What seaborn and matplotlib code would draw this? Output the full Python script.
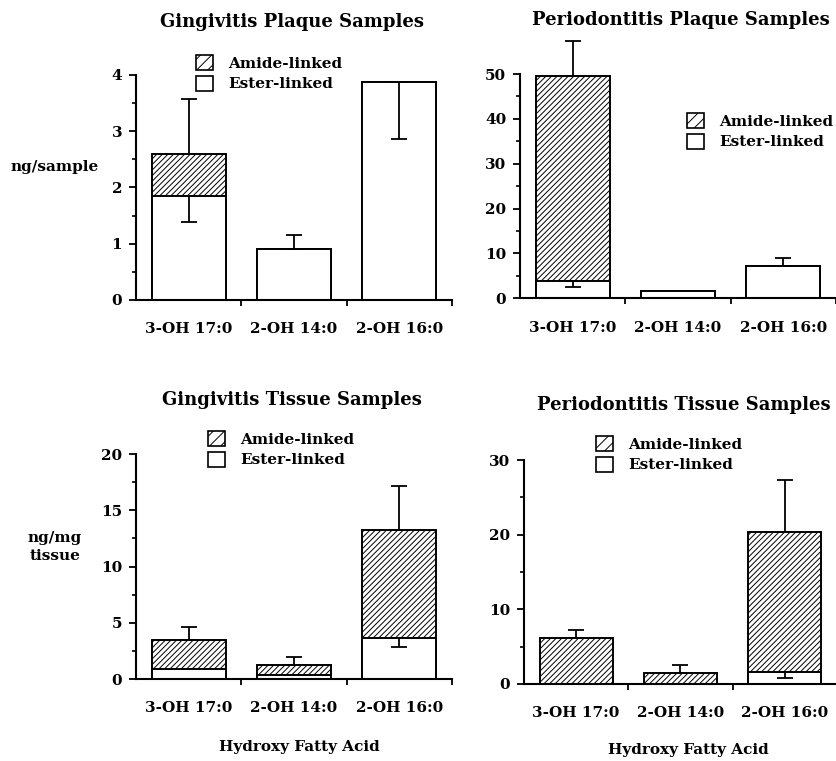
import pandas as pd
import matplotlib
matplotlib.use("Agg")
import matplotlib.pyplot as plt
import seaborn as sns
from matplotlib.patches import Patch
from matplotlib.ticker import MultipleLocator

sns.set_style("ticks")
plt.rcParams['font.family'] = ['DejaVu Serif']
plt.rcParams['font.weight'] = 'bold'
plt.rcParams['hatch.linewidth'] = 0.7
for k in ['text.color', 'axes.labelcolor', 'xtick.color', 'ytick.color', 'axes.edgecolor']:
    plt.rcParams[k] = 'black'

# Datos
acidos = ['3-OH 17:0', '2-OH 14:0', '2-OH 16:0']

# Gingivitis placa (ng/sample)
gp_ester = [1.84, 0.90, 3.87]
gp_amida = [0.76, 0.0, 0.0]
gp_err_sup = [0.97, 0.25, 0.0]
gp_err_inf = [0.46, 0.0, 1.0]

# Periodontitis placa
pp_ester = [3.9, 1.6, 7.2]
pp_amida = [45.7, 0.0, 0.0]
pp_err_sup = [7.8, 0.0, 1.7]
pp_err_inf = [1.3, 0.0, 0.0]

# Gingivitis tejido (ng/mg tissue)
gt_ester = [0.89, 0.41, 3.66]
gt_amida = [2.60, 0.83, 9.59]
gt_err_sup = [1.18, 0.71, 3.9]
gt_err_inf = [0.0, 0.0, 0.76]

# Periodontitis tejido
pt_ester = [0.0, 0.0, 1.65]
pt_amida = [6.1, 1.43, 18.75]
pt_err_sup = [1.1, 1.11, 6.9]
pt_err_inf = [0.0, 0.0, 0.8]

fig = plt.figure(figsize=(8.37, 7.61), dpi=100)
W, H = 837, 761

paneles = [
    dict(rect=[0.1625, 0.6058, 0.3775, 0.2957], titulo='Gingivitis Plaque Samples', tpos=(292, 22),
         ester=gp_ester, amida=gp_amida, sup=gp_err_sup, inf=gp_err_inf,
         ymax=4, major=1, minor=0.5, leg=(196, 55)),
    dict(rect=[0.6213, 0.6080, 0.3775, 0.2947], titulo='Periodontitis Plaque Samples', tpos=(681, 20),
         ester=pp_ester, amida=pp_amida, sup=pp_err_sup, inf=pp_err_inf,
         ymax=50, major=10, minor=5, leg=(687, 113)),
    dict(rect=[0.1625, 0.1074, 0.3775, 0.2960], titulo='Gingivitis Tissue Samples', tpos=(292, 400),
         ester=gt_ester, amida=gt_amida, sup=gt_err_sup, inf=gt_err_inf,
         ymax=20, major=5, minor=2.5, leg=(208, 431)),
    dict(rect=[0.6260, 0.1012, 0.3740, 0.2943], titulo='Periodontitis Tissue Samples', tpos=(684, 405),
         ester=pt_ester, amida=pt_amida, sup=pt_err_sup, inf=pt_err_inf,
         ymax=30, major=10, minor=5, leg=(596, 436)),
]

for p in paneles:
    ax = fig.add_axes(p['rect'])
    df = pd.DataFrame({'acido': acidos, 'ester': p['ester'],
                       'total': [e + a for e, a in zip(p['ester'], p['amida'])]})
    # barra total (amida) con rayado, luego ester blanca encima
    sns.barplot(data=df, x='acido', y='total', color='white', saturation=1,
                edgecolor='black', linewidth=1.4, hatch='//////', width=0.7,
                errorbar=None, ax=ax)
    sns.barplot(data=df, x='acido', y='ester', color='white', saturation=1,
                edgecolor='black', linewidth=1.4, width=0.7,
                errorbar=None, ax=ax)
    for i in range(len(acidos)):
        if p['sup'][i] > 0:
            ax.errorbar(i, df['total'][i], yerr=[[0], [p['sup'][i]]], fmt='none',
                        ecolor='black', elinewidth=1.3, capsize=6, capthick=1.3,
                        clip_on=False, zorder=5)
        if p['inf'][i] > 0:
            ax.errorbar(i, df['ester'][i], yerr=[[p['inf'][i]], [0]], fmt='none',
                        ecolor='black', elinewidth=1.3, capsize=6, capthick=1.3,
                        clip_on=False, zorder=5)

    ax.set_xlim(-0.5, 2.5)
    ax.set_ylim(0, p['ymax'])
    ax.yaxis.set_major_locator(MultipleLocator(p['major']))
    ax.yaxis.set_minor_locator(MultipleLocator(p['minor']))
    ax.set_xticks([0, 1, 2])
    ax.set_xticklabels(acidos)
    ax.set_xticks([0.5, 1.5, 2.5], minor=True)
    ax.tick_params(axis='x', which='major', length=0, pad=16, labelsize=11)
    ax.tick_params(axis='x', which='minor', length=4, width=1.3, direction='out')
    ax.tick_params(axis='y', which='major', length=5, width=1.3, pad=5, labelsize=11)
    ax.tick_params(axis='y', which='minor', length=3, width=1.2)
    for s in ['top', 'right']:
        ax.spines[s].set_visible(False)
    for s in ['left', 'bottom']:
        ax.spines[s].set_linewidth(1.5)
    ax.set_xlabel('')
    ax.set_ylabel('')

    tx, ty = p['tpos']
    fig.text(tx / W, 1 - ty / H, p['titulo'], ha='center', va='center', fontsize=13, fontweight='bold')

    handles = [Patch(facecolor='white', edgecolor='black', hatch='///', linewidth=1.2),
               Patch(facecolor='white', edgecolor='black', linewidth=1.2)]
    lx, ly = p['leg']
    ax.legend(handles, ['Amide-linked', 'Ester-linked'], loc='upper left',
              bbox_to_anchor=(lx / W, 1 - ly / H), bbox_transform=fig.transFigure,
              frameon=False, fontsize=11, handlelength=1.1, handleheight=1.1,
              handletextpad=1.0, labelspacing=0.35, borderpad=0, borderaxespad=0)

fig.text(55 / W, 1 - 167 / H, 'ng/sample', ha='center', va='center', fontsize=11, fontweight='bold')
fig.text(55 / W, 1 - 547 / H, 'ng/mg\ntissue', ha='center', va='center', fontsize=11,
         fontweight='bold', linespacing=1.3)
fig.text(299 / W, 1 - 747 / H, 'Hydroxy Fatty Acid', ha='center', va='center', fontsize=11, fontweight='bold')
fig.text(688 / W, 1 - 750 / H, 'Hydroxy Fatty Acid', ha='center', va='center', fontsize=11, fontweight='bold')

fig.savefig('out.png', dpi=100)
